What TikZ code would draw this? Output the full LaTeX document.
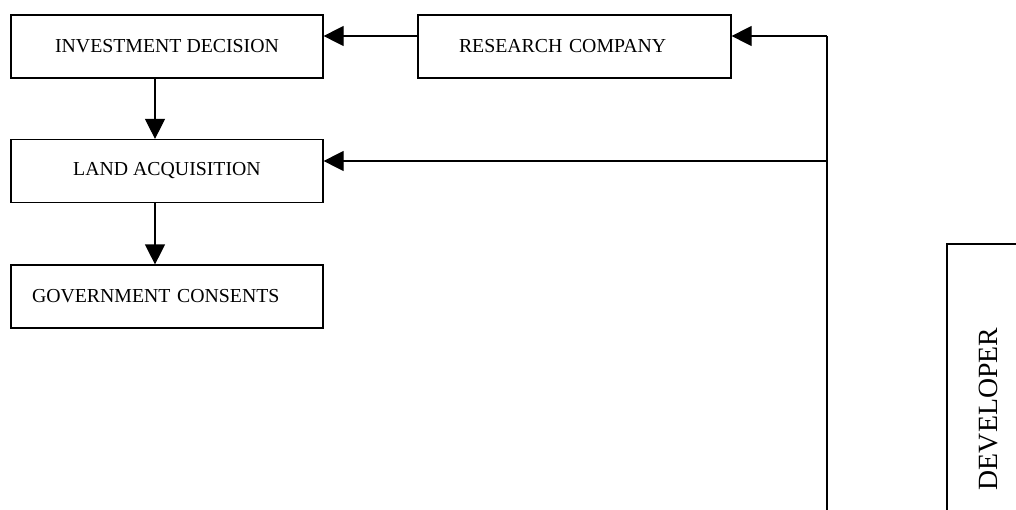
\documentclass[tikz,border=0pt]{standalone}
\usepackage{fontspec}
\setmainfont{Liberation Serif}
\usetikzlibrary{arrows.meta}
\begin{document}
\begin{tikzpicture}[x=1pt,y=-1pt,
  box/.style={draw, line width=1.2pt, minimum height=63pt, inner ysep=0pt,
    font=\fontsize{19.8}{23}\selectfont},
  conn/.style={line width=1.2pt},
  arr/.style={conn, -{Triangle[length=20pt,width=20pt]}}]
\useasboundingbox (0,0) rectangle (1016,509);
\clip (0,0) rectangle (1016,509);
\fill[white] (0,0) rectangle (1016,509);
% boxes
\node[box, inner xsep=0pt, minimum width=312pt] (id) at (167,46.5) {INVESTMENT DECISION};
\node[box, inner xsep=0pt, minimum width=312pt] (la) at (167,171) {LAND ACQUISITION};
\node[box, inner xsep=21pt, text width=270pt, align=left] (gc) at (167,296.5) {GOVERNMENT CONSENTS};
\node[box, inner xsep=41pt, text width=231pt, align=left] (rc) at (574.5,46.5) {RESEARCH COMPANY};
\node[draw, line width=1.2pt, rotate=90, minimum width=330pt, minimum height=82pt,
  font=\fontsize{27.8}{32}\selectfont] (dev) at (988,409) {DEVELOPER};
% bus coordinates
\coordinate (bustop) at (827,36);
\coordinate (busmid) at (827,161);
\coordinate (busbot) at (827,520);
% connectors
\draw[arr] ([yshift=10.5pt]rc.west) -- ([yshift=10.5pt]id.east);
\draw[arr] ([xshift=-12pt]id.south) -- ([xshift=-12pt]la.north);
\draw[arr] ([xshift=-12pt]la.south) -- ([xshift=-12pt]gc.north);
\draw[conn] (busbot) -- (bustop);
\draw[arr] (bustop) -- ([yshift=10.5pt]rc.east);
\draw[arr] (busmid) -- ([yshift=10pt]la.east);
\end{tikzpicture}
\end{document}
